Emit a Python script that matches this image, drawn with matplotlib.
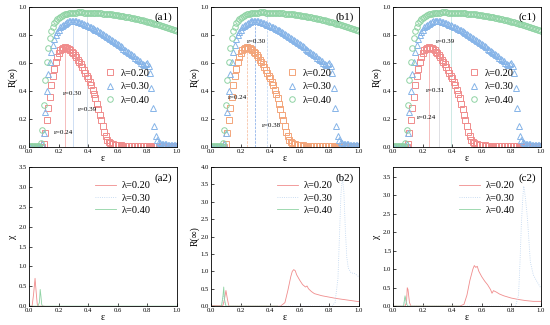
import numpy as np
import matplotlib
matplotlib.use('Agg')
import matplotlib.pyplot as plt

plt.rcParams['font.family'] = ['Liberation Serif', 'DejaVu Serif']
plt.rcParams['mathtext.fontset'] = 'stix'

# top row: R(inf) vs epsilon, step 0.01 from 0.00 to 1.00
eps_top = [round(0.01 * i, 2) for i in range(101)]

r_020 = [0, 0, 0, 0, 0, 0, 0, 0, 0, 0,
         0.02, 0.10, 0.19, 0.28, 0.36, 0.44, 0.51, 0.56, 0.61, 0.645,
         0.67, 0.69, 0.70, 0.71, 0.712, 0.71, 0.705, 0.70, 0.69, 0.68,
         0.67, 0.655, 0.64, 0.625, 0.61, 0.59, 0.57, 0.55, 0.53, 0.51,
         0.49, 0.465, 0.44, 0.41, 0.38, 0.35, 0.31, 0.27, 0.23, 0.19,
         0.15, 0.11, 0.075, 0.05, 0.035, 0.027, 0.022, 0.018, 0.015, 0.013,
         0.012, 0.011, 0.011, 0.010, 0.010, 0.010, 0.009, 0.009, 0.009, 0.009,
         0.008, 0.008, 0.008, 0.008, 0.008, 0.007, 0.007, 0.007, 0.007, 0.007,
         0.007, 0.006, 0.006, 0.006, 0.006, 0.006, 0.006, 0.006, 0.005, 0.005,
         0.005, 0.005, 0.005, 0.005, 0.005, 0.005, 0.005, 0.005, 0.005, 0.005,
         0.005]

r_030 = [0, 0, 0, 0, 0, 0, 0, 0, 0, 0.02,
         0.10, 0.25, 0.40, 0.52, 0.61, 0.68, 0.73, 0.77, 0.80, 0.82,
         0.84, 0.855, 0.865, 0.875, 0.883, 0.89, 0.895, 0.898, 0.90, 0.901,
         0.901, 0.90, 0.898, 0.895, 0.892, 0.888, 0.884, 0.88, 0.875, 0.87,
         0.865, 0.86, 0.855, 0.85, 0.845, 0.84, 0.834, 0.828, 0.821, 0.814,
         0.807, 0.80, 0.793, 0.786, 0.779, 0.772, 0.765, 0.758, 0.75, 0.743,
         0.735, 0.728, 0.72, 0.712, 0.704, 0.696, 0.688, 0.68, 0.672, 0.664,
         0.655, 0.647, 0.638, 0.63, 0.621, 0.612, 0.603, 0.594, 0.585, 0.59,
         0.60, 0.58, 0.53, 0.42, 0.28, 0.15, 0.08, 0.05, 0.035, 0.028,
         0.022, 0.02, 0.019, 0.018, 0.017, 0.016, 0.015, 0.014, 0.013, 0.013,
         0.012]

r_040 = [0.01, 0.01, 0.01, 0.01, 0.01, 0.01, 0.01, 0.01, 0.03, 0.12,
         0.30, 0.48, 0.61, 0.71, 0.78, 0.83, 0.86, 0.885, 0.90, 0.915,
         0.925, 0.933, 0.94, 0.945, 0.949, 0.952, 0.954, 0.956, 0.958, 0.959,
         0.96, 0.961, 0.961, 0.962, 0.962, 0.962, 0.962, 0.961, 0.961, 0.96,
         0.96, 0.959, 0.959, 0.958, 0.958, 0.957, 0.957, 0.956, 0.955, 0.955,
         0.954, 0.953, 0.952, 0.951, 0.95, 0.949, 0.948, 0.946, 0.945, 0.943,
         0.942, 0.94, 0.938, 0.936, 0.934, 0.932, 0.93, 0.928, 0.926, 0.924,
         0.922, 0.92, 0.918, 0.915, 0.913, 0.91, 0.908, 0.905, 0.902, 0.9,
         0.897, 0.894, 0.891, 0.888, 0.885, 0.882, 0.879, 0.876, 0.872, 0.869,
         0.866, 0.862, 0.859, 0.856, 0.852, 0.849, 0.845, 0.841, 0.838, 0.834,
         0.83]

# critical points per panel (eps of vertical guide lines)
crit_a = [0.24, 0.30, 0.39]
crit_b = [0.24, 0.30, 0.38]
crit_c = [0.24, 0.31, 0.39]

# bottom row: chi vs epsilon
a2_red_x = [0.0, 0.02, 0.03, 0.04, 0.05, 0.055, 0.06, 0.1]
a2_red_y = [0.0, 0.0, 0.3, 0.7, 0.25, 0.05, 0.0, 0.0]
a2_blu_x = [0.0, 0.06, 0.1]
a2_blu_y = [0.0, 0.0, 0.0]
a2_grn_x = [0.0, 0.06, 0.07, 0.075, 0.08, 0.085, 0.09, 1.0]
a2_grn_y = [0.0, 0.0, 0.1, 0.42, 0.25, 0.05, 0.0, 0.0]

b2_red_x = [0.0, 0.08, 0.09, 0.10, 0.11, 0.12, 0.47, 0.50, 0.52, 0.54, 0.55, 0.56,
            0.57, 0.58, 0.60, 0.62, 0.64, 0.65, 0.66, 0.68, 0.70, 0.75, 0.80,
            0.85, 0.90, 0.95, 1.0]
b2_red_y = [0.02, 0.02, 0.2, 0.45, 0.2, 0.0, 0.0, 0.1, 0.45, 0.85, 1.0, 1.05,
            1.02, 0.9, 0.75, 0.62, 0.55, 0.58, 0.5, 0.42, 0.36, 0.3, 0.26,
            0.22, 0.19, 0.16, 0.13]
b2_blu_x = [0.0, 0.07, 0.08, 0.085, 0.09, 0.10, 0.82, 0.84, 0.86, 0.87, 0.88,
            0.89, 0.90, 0.91, 0.92, 0.93, 0.95, 0.97, 1.0]
b2_blu_y = [0.0, 0.0, 0.25, 0.35, 0.1, 0.0, 0.0, 0.1, 0.8, 2.0, 3.2,
            3.7, 3.3, 2.2, 1.4, 1.1, 0.95, 0.95, 0.85]
b2_grn_x = [0.0, 0.07, 0.08, 0.085, 0.09, 0.10, 0.45]
b2_grn_y = [0.0, 0.0, 0.3, 0.55, 0.2, 0.0, 0.0]

c2_red_x = [0.0, 0.08, 0.09, 0.095, 0.10, 0.11, 0.12, 0.45, 0.48, 0.50, 0.52,
            0.54, 0.55, 0.56, 0.57, 0.58, 0.60, 0.62, 0.64, 0.66, 0.67, 0.68,
            0.70, 0.72, 0.75, 0.80, 0.85, 0.90, 0.95, 1.0]
c2_red_y = [0.0, 0.0, 0.1, 0.5, 0.45, 0.1, 0.0, 0.0, 0.05, 0.3, 0.7,
            1.0, 1.1, 1.05, 1.08, 0.95, 0.8, 0.68, 0.58, 0.45, 0.35, 0.42,
            0.38, 0.33, 0.28, 0.22, 0.18, 0.15, 0.13, 0.13]
c2_blu_x = [0.0, 0.07, 0.08, 0.09, 0.10, 0.83, 0.85, 0.86, 0.87, 0.88, 0.885,
            0.89, 0.90, 0.91, 0.92, 0.93, 0.95, 0.97, 1.0]
c2_blu_y = [0.0, 0.0, 0.25, 0.1, 0.0, 0.0, 0.3, 1.2, 2.3, 3.0, 3.25,
            3.15, 2.8, 2.4, 1.8, 1.2, 0.85, 0.7, 0.5]
c2_grn_x = [0.0, 0.07, 0.08, 0.09, 0.10, 0.45]
c2_grn_y = [0.0, 0.0, 0.28, 0.05, 0.0, 0.0]

labels = ['λ=0.20', 'λ=0.30', 'λ=0.40']

RED = '#f08c8c'
ORANGE = '#f3a57a'
BLUE = '#86b4e8'
GREEN = '#8fd3a4'

fig = plt.figure(figsize=(5.5, 3.25), dpi=100)
lefts = [0.053, 0.384, 0.715]
w = 0.268
top_axes = [fig.add_axes([l, 0.548, w, 0.43]) for l in lefts]
bot_axes = [fig.add_axes([l, 0.058, w, 0.428]) for l in lefts]


def style_axis(ax, ylim, yticks, ylabel):
    ax.set_xlim(0, 1)
    ax.set_ylim(*ylim)
    ax.set_xticks(np.arange(0, 1.01, 0.2))
    ax.set_yticks(yticks)
    ax.tick_params(direction='in', labelsize=4.8, length=2, width=0.5, pad=1.5)
    ax.set_xticklabels(['%.1f' % t for t in np.arange(0, 1.01, 0.2)])
    ax.set_yticklabels(['%.1f' % t for t in yticks])
    for s in ax.spines.values():
        s.set_linewidth(0.6)
    ax.set_xlabel('ε', fontsize=7, labelpad=0)
    ax.set_ylabel(ylabel, fontsize=7, labelpad=1)


tags_top = ['(a1)', '(b1)', '(c1)']
crits = [crit_a, crit_b, crit_c]
red_cols = [RED, ORANGE, RED]
guide_cols = [[RED, '#a9c6ec', '#b8c8d8'],
              [ORANGE, '#5a8fe0', '#a9c6ec'],
              [RED, '#c8c8d0', '#a8d8d0']]
curves = [r_020, r_030, r_040]
# annotation positions (eps, R) for each panel: one per critical point
ann_pos = [[(0.17, 0.09), (0.23, 0.37), (0.33, 0.26)],
           [(0.11, 0.34), (0.24, 0.74), (0.34, 0.14)],
           [(0.16, 0.20), (0.22, 0.39), (0.29, 0.74)]]

for k, ax in enumerate(top_axes):
    cols = [red_cols[k], BLUE, GREEN]
    markers = ['s', '^', 'o']
    # vertical guides up to each curve
    for j, (e, c) in enumerate(zip(crits[k], guide_cols[k])):
        top = np.interp(e, eps_top, curves[j])
        ls = '--' if k == 1 else '-'
        ax.plot([e, e], [0, top], color=c, lw=0.5, ls=ls, alpha=0.8, zorder=1)
        ax.text(ann_pos[k][j][0], ann_pos[k][j][1], 'ε=%.2f' % e, fontsize=5)
    for y, c, m, lab in zip(curves, cols, markers, labels):
        ax.plot(eps_top, y, linestyle='none', marker=m, ms=4, mfc='none',
                mec=c, mew=0.7, label=lab, zorder=2)
    style_axis(ax, (0, 1.0), np.arange(0, 1.01, 0.2), 'R(∞)')
    ax.text(0.97, 0.93, tags_top[k], transform=ax.transAxes, ha='right',
            va='center', fontsize=8)
    ax.legend(loc='upper left', bbox_to_anchor=(0.48, 0.59), frameon=False,
              fontsize=7.5, handlelength=1.2, handletextpad=0.4,
              labelspacing=0.4, borderaxespad=0)

tags_bot = ['(a2)', '(b2)', '(c2)']
bot_data = [
    [(a2_red_x, a2_red_y), (a2_blu_x, a2_blu_y), (a2_grn_x, a2_grn_y)],
    [(b2_red_x, b2_red_y), (b2_blu_x, b2_blu_y), (b2_grn_x, b2_grn_y)],
    [(c2_red_x, c2_red_y), (c2_blu_x, c2_blu_y), (c2_grn_x, c2_grn_y)],
]
ylims = [(0, 3.5), (0, 4.0), (0, 3.77)]
yticks_bot = [np.arange(0, 3.51, 0.5), np.arange(0, 4.01, 0.5), np.arange(0, 3.51, 0.5)]
ylabels_bot = ['χ', 'R(∞)', 'χ']

for k, ax in enumerate(bot_axes):
    styles = [(RED, '-'), ('#b9d2ee', ':'), (GREEN, '-')]
    for (x, y), (c, ls), lab in zip(bot_data[k], styles, labels):
        ax.plot(x, y, color=c, ls=ls, lw=0.6, label=lab)
    style_axis(ax, ylims[k], yticks_bot[k], ylabels_bot[k])
    ax.text(0.97, 0.92, tags_bot[k], transform=ax.transAxes, ha='right',
            va='center', fontsize=8)
    ax.legend(loc='upper left', bbox_to_anchor=(0.42, 0.93), frameon=False,
              fontsize=7.5, handlelength=2.0, handletextpad=0.5,
              labelspacing=0.3, borderaxespad=0)

fig.savefig('out.png', dpi=100)
